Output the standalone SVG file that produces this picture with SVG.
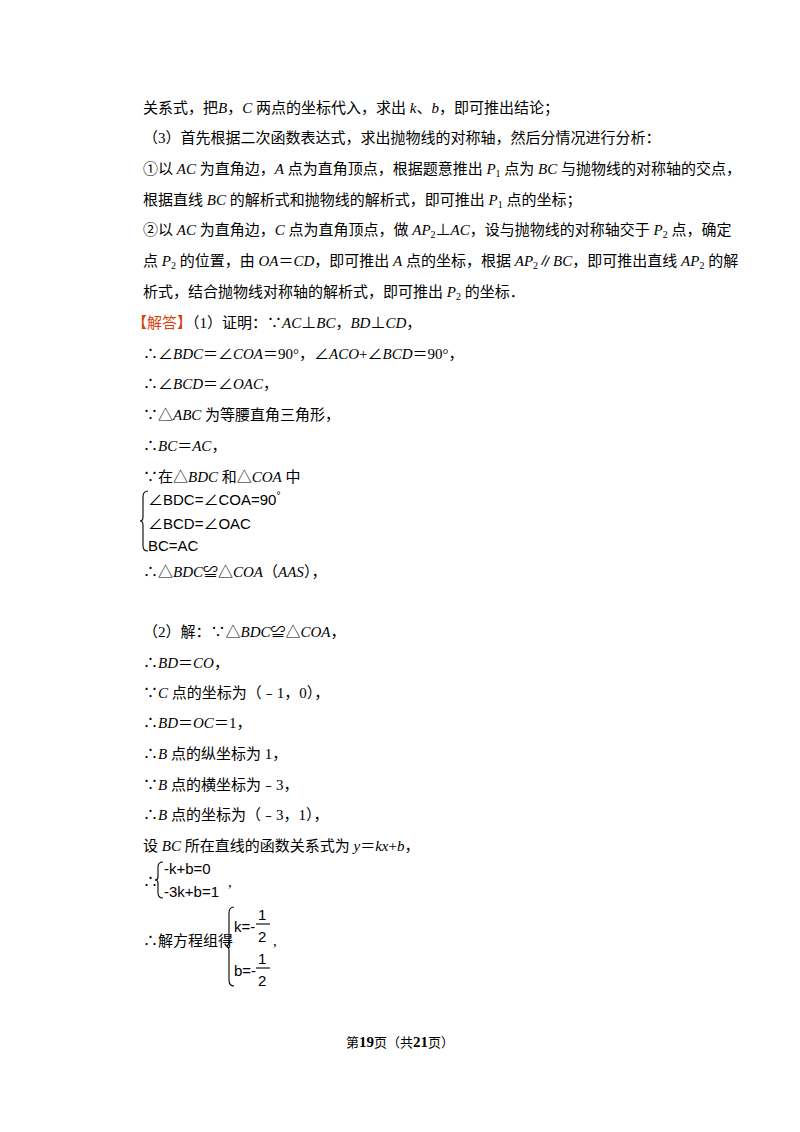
<svg xmlns="http://www.w3.org/2000/svg" width="800" height="1132" viewBox="0 0 800 1132">
<style>
text{font-family:"Liberation Serif","Noto Sans CJK SC",serif;font-size:15px;fill:#000}
.i{font-style:italic}
.s{font-size:10px}
.m{font-family:"Liberation Sans","Noto Sans CJK SC",sans-serif;font-size:15px}
.b{stroke:#000;stroke-width:1.1;fill:none}
</style>
<rect width="800" height="1132" fill="#fff"/>
<g id="text">
<text x="143" y="113">关系式，把<tspan class="i">B</tspan>，<tspan class="i">C</tspan> 两点的坐标代入，求出 <tspan class="i">k</tspan>、<tspan class="i">b</tspan>，即可推出结论；</text>
<text x="143" y="143">（3）首先根据二次函数表达式，求出抛物线的对称轴，然后分情况进行分析：</text>
<text x="143" y="174">①以 <tspan class="i">AC</tspan> 为直角边，<tspan class="i">A</tspan> 点为直角顶点，根据题意推出 <tspan class="i">P</tspan><tspan class="s" dy="3">1</tspan><tspan dy="-3"> 点为 </tspan><tspan class="i">BC</tspan> 与抛物线的对称轴的交点，</text>
<text x="143" y="205">根据直线 <tspan class="i">BC</tspan> 的解析式和抛物线的解析式，即可推出 <tspan class="i">P</tspan><tspan class="s" dy="3">1</tspan><tspan dy="-3"> 点的坐标；</tspan></text>
<text x="143" y="235">②以 <tspan class="i">AC</tspan> 为直角边，<tspan class="i">C</tspan> 点为直角顶点，做 <tspan class="i">AP</tspan><tspan class="s" dy="3">2</tspan><tspan dy="-3">⊥</tspan><tspan class="i">AC</tspan>，设与抛物线的对称轴交于 <tspan class="i">P</tspan><tspan class="s" dy="3">2</tspan><tspan dy="-3"> 点，确定</tspan></text>
<text x="143" y="266">点 <tspan class="i">P</tspan><tspan class="s" dy="3">2</tspan><tspan dy="-3"> 的位置，由 </tspan><tspan class="i">OA</tspan>＝<tspan class="i">CD</tspan>，即可推出 <tspan class="i">A</tspan> 点的坐标，根据 <tspan class="i">AP</tspan><tspan class="s" dy="3">2</tspan><tspan dy="-3">∥</tspan><tspan class="i">BC</tspan>，即可推出直线 <tspan class="i">AP</tspan><tspan class="s" dy="3">2</tspan><tspan dy="-3"> 的解</tspan></text>
<text x="143" y="297">析式，结合抛物线对称轴的解析式，即可推出 <tspan class="i">P</tspan><tspan class="s" dy="3">2</tspan><tspan dy="-3"> 的坐标．</tspan></text>
<text x="132" y="328"><tspan fill="#d9400a">【解答】</tspan>（1）证明：∵<tspan class="i">AC</tspan>⊥<tspan class="i">BC</tspan>，<tspan class="i">BD</tspan>⊥<tspan class="i">CD</tspan>，</text>
<text x="143" y="359">∴∠<tspan class="i">BDC</tspan>＝∠<tspan class="i">COA</tspan>＝90°，∠<tspan class="i">ACO</tspan>+∠<tspan class="i">BCD</tspan>＝90°，</text>
<text x="143" y="389">∴∠<tspan class="i">BCD</tspan>＝∠<tspan class="i">OAC</tspan>，</text>
<text x="143" y="420">∵△<tspan class="i">ABC</tspan> 为等腰直角三角形，</text>
<text x="143" y="451">∴<tspan class="i">BC</tspan>＝<tspan class="i">AC</tspan>，</text>
<text x="143" y="482">∵在△<tspan class="i">BDC</tspan> 和△<tspan class="i">COA</tspan> 中</text>
<text class="m" x="148" y="505">∠BDC=∠COA=90<tspan class="s" dy="-6">°</tspan></text>
<text class="m" x="148" y="529">∠BCD=∠OAC</text>
<text class="m" x="148" y="551">BC=AC</text>
<text x="143" y="577">∴△<tspan class="i">BDC</tspan>≌△<tspan class="i">COA</tspan>（<tspan class="i">AAS</tspan>），</text>
<text x="143" y="637">（2）解：∵△<tspan class="i">BDC</tspan>≌△<tspan class="i">COA</tspan>，</text>
<text x="143" y="668">∴<tspan class="i">BD</tspan>＝<tspan class="i">CO</tspan>，</text>
<text x="143" y="698">∵<tspan class="i">C</tspan> 点的坐标为（﹣1，0），</text>
<text x="143" y="728">∴<tspan class="i">BD</tspan>＝<tspan class="i">OC</tspan>＝1，</text>
<text x="143" y="759">∴<tspan class="i">B</tspan> 点的纵坐标为 1，</text>
<text x="143" y="790">∵<tspan class="i">B</tspan> 点的横坐标为﹣3，</text>
<text x="143" y="820">∴<tspan class="i">B</tspan> 点的坐标为（﹣3，1），</text>
<text x="143" y="851">设 <tspan class="i">BC</tspan> 所在直线的函数关系式为 <tspan class="i">y</tspan>＝<tspan class="i">kx</tspan>+<tspan class="i">b</tspan>，</text>
<text x="143" y="887">∴</text>
<text class="m" x="164" y="874">-k+b=0</text>
<text class="m" x="164" y="897">-3k+b=1</text>
<text x="228" y="887">,</text>
<text x="143" y="946">∴解方程组得</text>
<text class="m" x="234" y="932">k=-</text>
<text class="m" x="258" y="920">1</text>
<text class="m" x="258" y="942">2</text>
<text x="273" y="946">,</text>
<text class="m" x="234" y="976">b=-</text>
<text class="m" x="258" y="964">1</text>
<text class="m" x="258" y="986">2</text>
<text x="400" y="1047" text-anchor="middle" style="font-size:13px">第<tspan font-weight="bold" style="font-size:15px">19</tspan>页（共<tspan font-weight="bold" style="font-size:15px">21</tspan>页）</text>
</g>
<g id="braces">
<path class="b" d="M148,491 Q143,491 143,497 L143,517 Q143,521 140,521 Q143,521 143,525 L143,546 Q143,551 148,551"/>
<path class="b" d="M163,862 Q158,862 158,867 L158,877 Q158,880 155,880 Q158,880 158,883 L158,893 Q158,898 163,898"/>
<line class="b" x1="256" y1="924" x2="270" y2="924"/>
<line class="b" x1="256" y1="968" x2="270" y2="968"/>
<path class="b" d="M234,907 Q229,907 229,913 L229,941 Q229,946 226,946 Q229,946 229,951 L229,980 Q229,986 234,986"/>
</g>
</svg>
